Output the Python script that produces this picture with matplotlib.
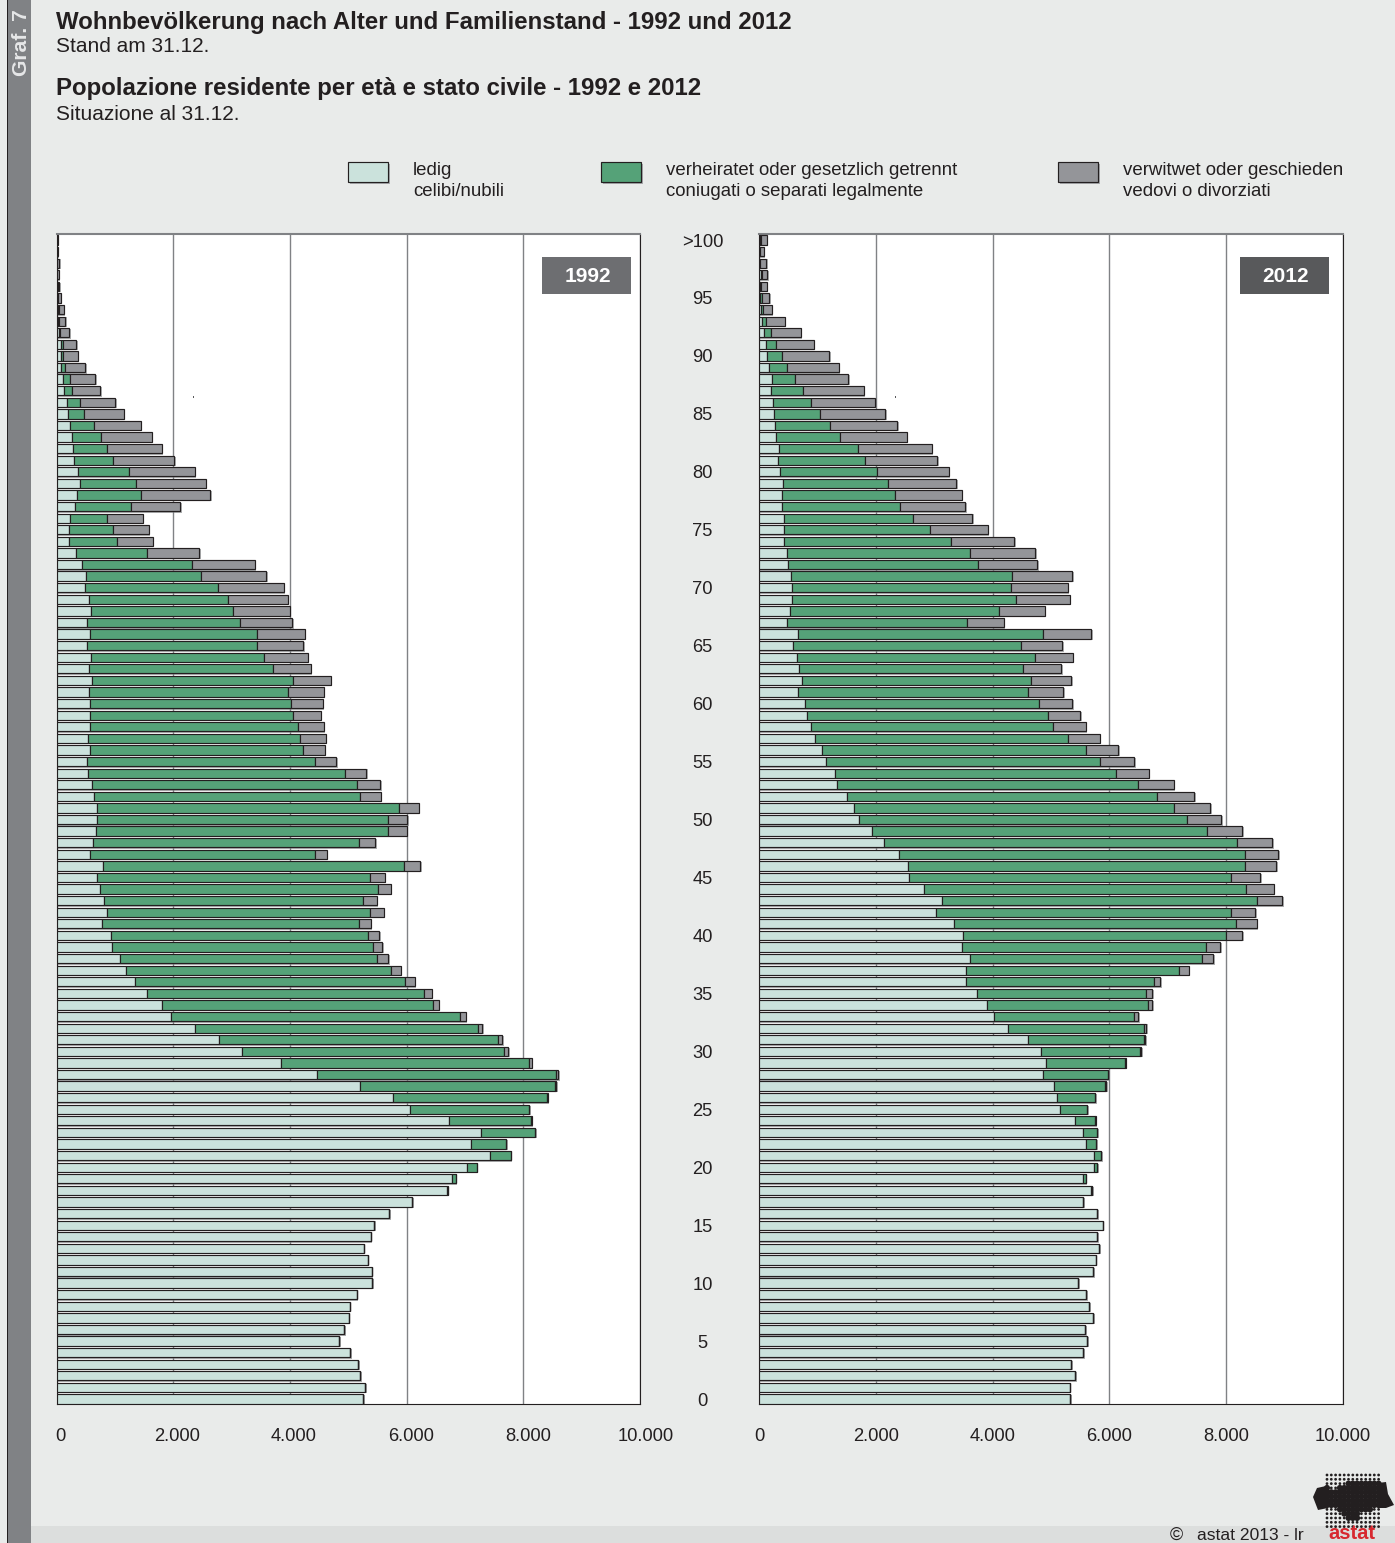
import numpy as np
from matplotlib import pyplot as plt
from matplotlib.patches import Rectangle, Polygon
from matplotlib.path import Path
from matplotlib.transforms import ScaledTranslation

W, H = 1395, 1543

plt.rcParams['font.family'] = ['Liberation Sans', 'DejaVu Sans']

ages = list(range(101))
age_ticks = list(range(0, 101, 5))
age_labels = [str(a) for a in age_ticks[:-1]] + ['>100']
value_ticks = [0, 2000, 4000, 6000, 8000, 10000]
value_labels = ['0', '2.000', '4.000', '6.000', '8.000', '10.000']

# age 0 to >100
single_1992 = [5259, 5293, 5208, 5168, 5031, 4848, 4933, 5008, 5025, 5145,
               5413, 5407, 5333, 5265, 5385, 5447, 5704, 6097, 6691, 6783,
               7034, 7434, 7109, 7280, 6731, 6063, 5766, 5206, 4469, 3840,
               3177, 2783, 2377, 1966, 1800, 1549, 1343, 1183, 1080, 954,
               931, 777, 874, 806, 749, 691, 800, 566, 629, 674,
               691, 697, 640, 600, 543, 531, 571, 543, 577, 571,
               577, 554, 611, 554, 594, 531, 577, 531, 594, 549,
               497, 503, 429, 337, 217, 217, 223, 320, 354, 406,
               360, 303, 291, 274, 229, 200, 183, 126, 114, 69,
               69, 69, 35, 20, 20, 10, 10, 5, 10, 5, 5]
married_1992 = [0, 0, 0, 0, 0, 0, 0, 0, 0, 0,
                0, 0, 0, 0, 0, 0, 0, 3, 18, 63,
                172, 349, 594, 926, 1406, 2028, 2634, 3331, 4091, 4251,
                4492, 4783, 4840, 4943, 4646, 4748, 4634, 4554, 4417, 4475,
                4412, 4406, 4492, 4451, 4760, 4686, 5149, 3857, 4548, 5012,
                4995, 5166, 4554, 4554, 4394, 3892, 3658, 3623, 3554, 3486,
                3440, 3417, 3446, 3149, 2966, 2903, 2863, 2606, 2429, 2388,
                2263, 1977, 1891, 1212, 823, 754, 640, 949, 1097, 960,
                874, 668, 578, 486, 417, 274, 223, 143, 109, 80,
                45, 40, 30, 15, 15, 10, 10, 5, 5, 5, 5]
widowed_1992 = [0, 0, 0, 0, 0, 0, 0, 0, 0, 0,
                0, 0, 0, 0, 0, 0, 0, 0, 0, 0,
                0, 0, 6, 3, 6, 12, 17, 29, 40, 52,
                74, 74, 80, 102, 103, 132, 160, 160, 189, 154,
                188, 206, 245, 229, 217, 252, 285, 206, 286, 320,
                325, 343, 366, 395, 372, 371, 365, 445, 446, 469,
                543, 612, 640, 657, 743, 795, 817, 903, 971, 1023,
                1137, 1114, 1074, 897, 611, 612, 617, 851, 1183, 1188,
                1132, 1046, 937, 874, 800, 675, 605, 485, 440, 348,
                252, 228, 150, 115, 90, 50, 30, 25, 30, 13, 10]

single_2012 = [5331, 5320, 5417, 5349, 5554, 5623, 5589, 5720, 5657, 5600,
               5463, 5720, 5766, 5829, 5794, 5891, 5794, 5554, 5686, 5549,
               5731, 5743, 5606, 5543, 5417, 5160, 5109, 5046, 4869, 4909,
               4829, 4600, 4257, 4023, 3909, 3731, 3549, 3549, 3606, 3474,
               3491, 3331, 3023, 3126, 2829, 2560, 2554, 2400, 2143, 1937,
               1709, 1623, 1497, 1331, 1303, 1149, 1074, 954, 891, 823,
               783, 669, 731, 680, 640, 577, 657, 480, 526, 560,
               560, 537, 497, 469, 417, 417, 423, 383, 383, 406,
               354, 326, 337, 286, 263, 251, 234, 200, 217, 166,
               131, 114, 74, 46, 23, 15, 10, 23, 10, 5, 10]
married_2012 = [0, 0, 0, 0, 0, 0, 0, 0, 0, 0,
                0, 0, 0, 0, 0, 0, 0, 0, 23, 45,
                58, 120, 171, 251, 337, 463, 640, 886, 1102, 1354,
                1697, 1989, 2332, 2406, 2748, 2903, 3211, 3651, 3983, 4177,
                4515, 4840, 5063, 5411, 5508, 5526, 5772, 5926, 6046, 5743,
                5622, 5491, 5320, 5155, 4806, 4697, 4520, 4343, 4143, 4131,
                4006, 3931, 3932, 3846, 4080, 3903, 4206, 3080, 3577, 3846,
                3760, 3800, 3257, 3148, 2874, 2503, 2217, 2034, 1943, 1800,
                1669, 1491, 1360, 1097, 948, 789, 657, 549, 400, 314,
                263, 172, 132, 68, 40, 36, 24, 23, 10, 10, 13]
widowed_2012 = [0, 0, 0, 0, 0, 0, 0, 0, 0, 0,
                0, 0, 0, 0, 0, 0, 0, 0, 0, 0,
                0, 0, 0, 0, 12, 0, 5, 11, 12, 17,
                23, 28, 40, 62, 74, 97, 109, 160, 188, 246,
                268, 355, 411, 429, 480, 497, 537, 565, 605, 594,
                583, 612, 634, 617, 565, 577, 560, 537, 560, 549,
                577, 611, 680, 651, 651, 709, 828, 629, 794, 914,
                971, 1023, 1006, 1109, 1075, 1000, 1006, 1109, 1148, 1171,
                1228, 1234, 1257, 1148, 1155, 1120, 1098, 1045, 909, 886,
                806, 651, 508, 320, 148, 120, 92, 91, 100, 65, 108]

BG = '#e9ebea'
LIGHT = '#cbe2dc'
GREEN = '#55a278'
GREY = '#949599'
EDGE = '#231f20'
TEXT = '#231f20'


def fx(px):
    return px / W


def fy(py):
    return 1 - py / H


def box(fig, x0, y0, x1, y1, **kw):
    # rectangle given in pixels from the top left corner
    r = Rectangle((fx(x0), fy(y1)), (x1 - x0) / W, (y1 - y0) / H,
                  transform=fig.transFigure, **kw)
    fig.add_artist(r)
    return r


def label(fig, px, py, s, **kw):
    kw.setdefault('color', TEXT)
    kw.setdefault('va', 'center')
    return fig.text(fx(px), fy(py), s, **kw)


def panel(fig, x0, single, married, widowed):
    ax = fig.add_axes([fx(x0), fy(1404), 583.5 / W, 1170 / H])
    s = np.array(single)
    m = np.array(married)
    w = np.array(widowed)
    y = np.array(ages)
    # soft shadow below and right of each bar
    ax.barh(y - 0.1, s + m + w + 25, height=0.84, color='#77787b', alpha=0.6,
            linewidth=0, zorder=2)
    style = dict(height=0.8, edgecolor=EDGE, linewidth=0.85, zorder=3)
    ax.barh(y, s, color=LIGHT, **style)
    ax.barh(y, m, left=s, color=GREEN, **style)
    ax.barh(y, w, left=s + m, color=GREY, **style)
    ax.set_xlim(0, 10000)
    ax.set_ylim(-0.43, 100.52)
    ax.set_xticks(value_ticks)
    ax.set_xticklabels(value_labels, fontsize=13.2, color=TEXT)
    ax.tick_params(axis='x', length=0, pad=17.5)
    ax.set_yticks([])
    ax.set_axisbelow(True)
    ax.grid(axis='x', color='#808285', linewidth=1.0, zorder=1)
    ax.spines['top'].set_color('#808285')
    ax.spines['top'].set_linewidth(1.5)
    for side in ['left', 'right', 'bottom']:
        ax.spines[side].set_color(EDGE)
        ax.spines[side].set_linewidth(0.8)
    ax.set_zorder(2)
    return ax


def logo(fig):
    ax = fig.add_axes([0, 0, 1, 1], facecolor='none', zorder=5)
    ax.set_xlim(0, W)
    ax.set_ylim(H, 0)
    ax.axis('off')
    blob = [(1313, 1497), (1326, 1486), (1330, 1492), (1340, 1487), (1346, 1483),
            (1372, 1482), (1380, 1481), (1386, 1482), (1388, 1494), (1394, 1505),
            (1386, 1508), (1378, 1508), (1370, 1510), (1362, 1512), (1358, 1520),
            (1350, 1522), (1346, 1516), (1340, 1510), (1328, 1508), (1318, 1510)]
    path = Path(blob + [blob[0]])
    gx, gy = np.meshgrid(np.arange(1327, 1379, 4.3), np.arange(1475, 1527, 4.3))
    pts = np.column_stack([gx.ravel(), gy.ravel()])
    inside = path.contains_points(pts)
    ax.scatter(pts[:, 0], pts[:, 1], s=np.where(inside, 19, 4), color='#231f20', linewidth=0)
    left = [(1313, 1497), (1317, 1488), (1326, 1486), (1330, 1492), (1328, 1508), (1318, 1510)]
    right = [(1378, 1483), (1386, 1482), (1388, 1494), (1394, 1505), (1386, 1508), (1378, 1508)]
    ax.add_patch(Polygon(left, closed=True, color='#231f20', linewidth=0))
    ax.add_patch(Polygon(right, closed=True, color='#231f20', linewidth=0))
    ax.text(1352, 1533.5, 'astat', color='#d7282f', fontsize=14.5, fontweight='bold',
            ha='center', va='center')


fig = plt.figure(figsize=(W / 100, H / 100), dpi=100, facecolor=BG)

# left strip and footer band
box(fig, 31, 1526, W, H, color='#dcdedd', linewidth=0)
box(fig, 7, 0, 31, H, color='#808285', linewidth=0)
box(fig, 7, 0, 8, H, color='#231f20', linewidth=0)
label(fig, 21.5, 43, 'Graf. 7', color='#e6e7e8', fontsize=15.2, fontweight='bold',
      rotation=90, ha='center')

label(fig, 56, 22.5, 'Wohnbevölkerung nach Alter und Familienstand - 1992 und 2012',
      fontsize=17.3, fontweight='bold')
label(fig, 56, 46.5, 'Stand am 31.12.', fontsize=15)
label(fig, 56, 89, 'Popolazione residente per età e stato civile - 1992 e 2012',
      fontsize=17.3, fontweight='bold')
label(fig, 56, 115, 'Situazione al 31.12.', fontsize=15)

# legend
legend_items = [(348, LIGHT, 413, 'ledig', 'celibi/nubili'),
                (601, GREEN, 666, 'verheiratet oder gesetzlich getrennt',
                 'coniugati o separati legalmente'),
                (1058, GREY, 1123, 'verwitwet oder geschieden', 'vedovi o divorziati')]
for sx, col, tx, line1, line2 in legend_items:
    box(fig, sx + 2, 164, sx + 42, 184, color='#a7a9ac', linewidth=0)
    box(fig, sx, 162, sx + 40, 182, facecolor=col, edgecolor=EDGE, linewidth=0.85)
    label(fig, tx, 170.5, line1, fontsize=13.45)
    label(fig, tx, 191.5, line2, fontsize=13.45)

ax1 = panel(fig, 56.5, single_1992, married_1992, widowed_1992)
ax2 = panel(fig, 759.3, single_2012, married_2012, widowed_2012)

# 1992 labels sit a little right of their grid lines
shifts = [4, 4, 4, 4, 4.5, 5.5]
for tick_label, dx in zip(ax1.get_xticklabels(), shifts):
    tick_label.set_transform(tick_label.get_transform()
                             + ScaledTranslation(dx / 100, 0, fig.dpi_scale_trans))

# age labels between the panels
ax2.set_yticks(age_ticks)
ax2.set_yticklabels(age_labels, fontsize=13.2, color=TEXT, ha='center')
ax2.tick_params(axis='y', length=0, pad=40.8)

for x0, year, col in [(542, '1992', '#6d6e71'), (1240, '2012', '#58595b')]:
    r = box(fig, x0, 257, x0 + 89, 294, color=col, linewidth=0, zorder=6)
    label(fig, x0 + 46, 276.5, year, color='white', fontsize=15, fontweight='bold',
          ha='center', zorder=7)

# small specks in the original artwork
box(fig, 192.5, 396.5, 193.5, 397.5, color='#58595b', linewidth=0, zorder=6)
box(fig, 895, 396.5, 896, 397.5, color='#58595b', linewidth=0, zorder=6)

label(fig, 1170, 1535.5, '©', fontsize=13, ha='left')
label(fig, 1197, 1536, 'astat 2013 - lr', fontsize=12.6, ha='left')
logo(fig)

fig.savefig('out.png', dpi=100, facecolor=BG)
